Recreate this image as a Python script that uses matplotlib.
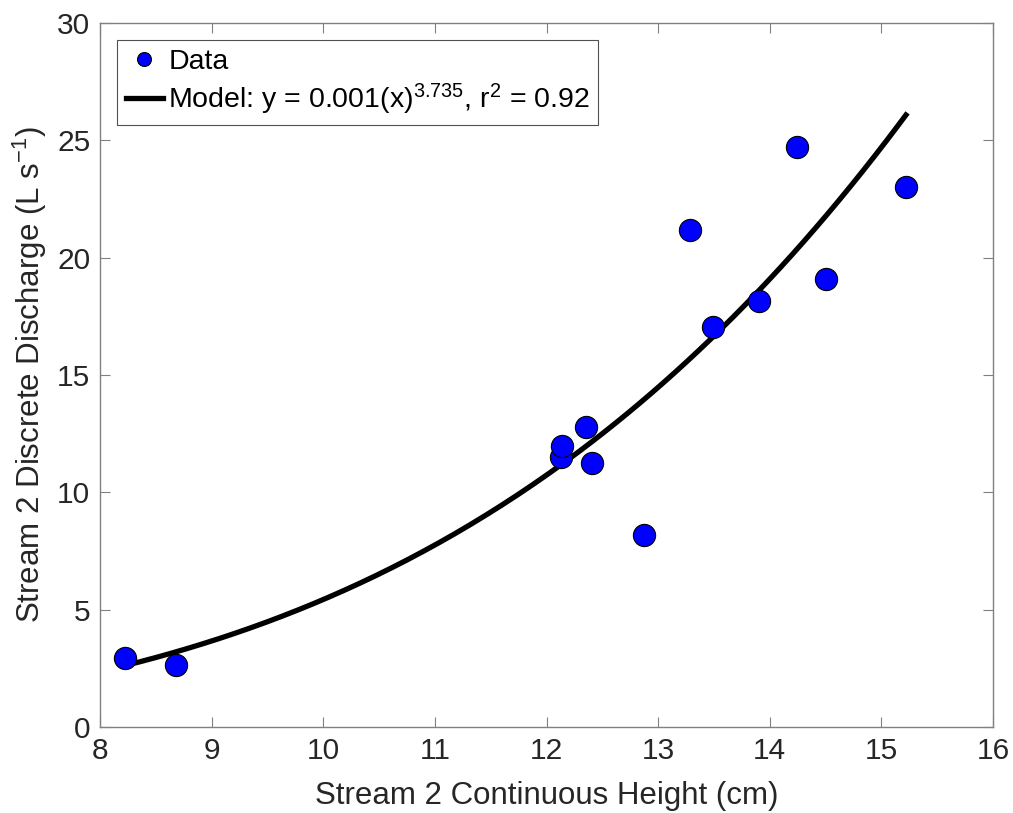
import matplotlib
matplotlib.use("Agg")
import matplotlib.pyplot as plt
import numpy as np

plt.rcParams["font.family"] = ["Liberation Sans", "DejaVu Sans"]
plt.rcParams["mathtext.fontset"] = "custom"
plt.rcParams["mathtext.rm"] = "Liberation Sans"
plt.rcParams["mathtext.it"] = "Liberation Sans"

TXT = "#262626"; AX = "#808080"

# data
height = [8.22, 8.68, 12.13, 12.14, 12.35, 12.41, 12.87, 13.29, 13.49, 13.90, 14.24, 14.50, 15.22]
discharge = [2.94, 2.64, 11.50, 11.97, 12.78, 11.25, 8.18, 21.20, 17.04, 18.15, 24.70, 19.09, 23.03]
coef = 0.001
expo = 3.735
r2 = 0.92

fig = plt.figure(figsize=(10.13, 8.13), dpi=100)
ax = fig.add_axes([100/1013, 1 - 727/813, 893/1013, 704/813])

xs = np.linspace(min(height), max(height), 200)
ax.plot(height, discharge, "o", ms=16, mfc="#0000ff", mec="black", mew=0.8,
        label="Data", zorder=3)
ax.plot(xs, coef * xs**expo, color="black", lw=3.8,
        label=r"Model: y = 0.001(x)$^{3.735}$, r$^{2}$ = 0.92", zorder=2)

ax.set_xlim(8, 16); ax.set_ylim(0, 30)
ax.set_xticks(range(8, 17)); ax.set_yticks(range(0, 31, 5))
ax.tick_params(direction="in", top=True, right=True, length=7, width=0.8,
               color=AX, labelsize=21.5, labelcolor=TXT, pad=7)
for sp in ax.spines.values():
    sp.set_color(AX); sp.set_linewidth(1.0)
ax.set_xlabel("Stream 2 Continuous Height (cm)", fontsize=22.5, color=TXT, labelpad=12)
ax.set_ylabel(r"Stream 2 Discrete Discharge (L s$^{-1}$)", fontsize=22.5, color=TXT, labelpad=6)

leg = ax.legend(loc="upper left", fontsize=20.5, frameon=True, fancybox=False,
                borderpad=0.3, handlelength=1.3, handletextpad=0.2,
                labelspacing=0.25, borderaxespad=0.6)
leg.get_frame().set_edgecolor(TXT); leg.get_frame().set_linewidth(0.8)
leg.legend_handles[0].set_markersize(10)

fig.savefig("out.png", dpi=100, facecolor="white")
